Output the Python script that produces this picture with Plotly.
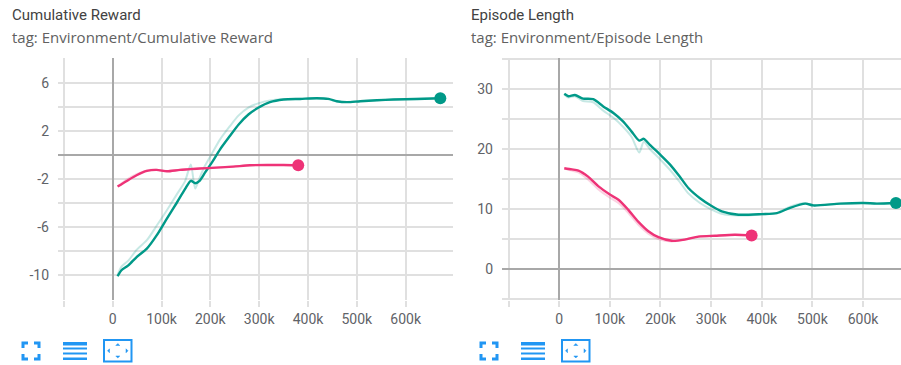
import plotly.graph_objects as go

W, H = 901, 365

# ---- Cumulative Reward (steps in thousands) ----
rew_teal_steps = [10, 18, 32, 49, 70, 90, 111, 131, 148, 160, 169, 178, 189, 203, 220, 240, 258, 278,
                  298, 322, 350, 384, 418, 442, 459, 480, 507, 541, 575, 623, 671]
rew_teal_smooth = [-10.1, -9.6, -9.2, -8.5, -7.8, -6.7, -5.3, -4.0, -2.85, -2.15, -2.35, -2.15, -1.47,
                   -0.64, 0.47, 1.58, 2.54, 3.37, 3.93, 4.4, 4.62, 4.67, 4.73, 4.67, 4.48, 4.4, 4.48,
                   4.56, 4.62, 4.67, 4.73]
rew_teal_raw = [-10.0, -9.3, -8.8, -7.9, -7.1, -5.9, -4.6, -3.3, -2.2, -0.8, -2.8, -1.9, -0.9, 0.1,
                1.3, 2.4, 3.3, 3.95, 4.3, 4.55, 4.65, 4.68, 4.72, 4.65, 4.45, 4.42, 4.5, 4.57, 4.63,
                4.68, 4.72]

rew_pink_steps = [10, 29, 49, 70, 90, 111, 138, 179, 213, 247, 281, 316, 350, 380]
rew_pink_smooth = [-2.63, -2.16, -1.69, -1.33, -1.24, -1.36, -1.24, -1.13, -1.05, -0.97, -0.86,
                   -0.83, -0.83, -0.86]
rew_pink_raw = [-2.6, -2.05, -1.6, -1.28, -1.22, -1.33, -1.22, -1.1, -1.03, -0.95, -0.85, -0.83,
                -0.84, -0.86]

# ---- Episode Length (steps in thousands) ----
len_teal_steps = [10, 18, 31, 47, 67, 87, 107, 126, 143, 158, 167, 179, 199, 219, 238, 255, 278, 301,
                  321, 354, 400, 430, 456, 486, 502, 555, 601, 627, 665]
len_teal_smooth = [29.2, 28.8, 29.0, 28.4, 28.3, 27.1, 26.0, 24.6, 22.9, 21.4, 21.7, 20.7, 19.1,
                   17.4, 15.4, 13.5, 11.8, 10.5, 9.6, 9.05, 9.15, 9.3, 10.2, 10.9, 10.6, 10.9, 11.0,
                   10.9, 11.0]
len_teal_raw = [29.1, 28.6, 28.8, 28.0, 27.8, 26.4, 25.2, 23.7, 22.0, 19.4, 21.2, 20.0, 18.3, 16.5,
                14.5, 12.6, 11.0, 9.9, 9.2, 8.9, 9.1, 9.35, 10.4, 11.0, 10.6, 10.9, 11.0, 10.9, 11.0]

len_pink_steps = [10, 25, 38, 57, 77, 100, 117, 136, 156, 176, 196, 222, 248, 275, 308, 347, 380]
len_pink_smooth = [16.8, 16.6, 16.4, 15.4, 13.8, 12.4, 11.55, 9.9, 7.9, 6.3, 5.3, 4.7, 4.9, 5.4,
                   5.55, 5.7, 5.6]
len_pink_raw = [16.7, 16.4, 16.1, 14.9, 13.3, 11.9, 11.0, 9.4, 7.4, 5.9, 5.0, 4.6, 4.9, 5.4, 5.5,
                5.7, 5.6]

x_tickvals = [-100, 0, 100, 200, 300, 400, 500, 600]
x_ticktext = ["", "0", "100k", "200k", "300k", "400k", "500k", "600k"]
rew_tickvals = [-12, -10, -8, -6, -4, -2, 0, 2, 4, 6, 8]
rew_ticktext = ["", "-10", "", "-6", "", "-2", "", "2", "", "6", ""]
len_tickvals = [-5, 0, 5, 10, 15, 20, 25, 30, 35]
len_ticktext = ["", "0", "", "10", "", "20", "", "30", ""]

TEAL = "#009988"
PINK = "#ee3377"
GRID = "#e0e0e0"
ZERO = "#a8a8a8"
TXT = "#5f6368"
FONT = "Roboto"


def px(x):
    return x / W


def py(y):
    return 1 - y / H


def k(steps):
    return [s * 1000 for s in steps]


fig = go.Figure()


def add_run(steps, raw, smooth, color, xa, ya):
    xs = k(steps)
    fig.add_trace(go.Scatter(x=xs, y=raw, mode="lines", xaxis=xa, yaxis=ya,
                             line=dict(color=color, width=2, shape="spline", smoothing=0.7),
                             opacity=0.22, hoverinfo="skip", showlegend=False))
    fig.add_trace(go.Scatter(x=xs, y=smooth, mode="lines", xaxis=xa, yaxis=ya,
                             line=dict(color=color, width=2.4, shape="spline", smoothing=0.7),
                             showlegend=False))
    fig.add_trace(go.Scatter(x=[xs[-1]], y=[smooth[-1]], mode="markers", xaxis=xa, yaxis=ya,
                             marker=dict(color=color, size=12), showlegend=False))


add_run(rew_teal_steps, rew_teal_raw, rew_teal_smooth, TEAL, "x", "y")
add_run(rew_pink_steps, rew_pink_raw, rew_pink_smooth, PINK, "x", "y")
add_run(len_teal_steps, len_teal_raw, len_teal_smooth, TEAL, "x2", "y2")
add_run(len_pink_steps, len_pink_raw, len_pink_smooth, PINK, "x2", "y2")

y_dom = [py(300), py(58)]


def xaxis(domain, rng, anchor):
    return dict(domain=domain, range=rng, anchor=anchor,
                tickvals=[v * 1000 for v in x_tickvals], ticktext=x_ticktext,
                showgrid=True, gridcolor=GRID, gridwidth=1.6,
                zeroline=True, zerolinecolor=ZERO, zerolinewidth=1.8,
                ticks="outside", ticklen=6, tickwidth=1.6, tickcolor=GRID,
                showline=False, tickfont=dict(family=FONT, size=14, color=TXT),
                fixedrange=True)


def yaxis(domain, rng, anchor, tv, tt):
    return dict(domain=domain, range=rng, anchor=anchor, tickvals=tv, ticktext=tt,
                showgrid=True, gridcolor=GRID, gridwidth=1.6,
                zeroline=True, zerolinecolor=ZERO, zerolinewidth=1.8,
                ticks="", ticklabelstandoff=8, showline=False,
                tickfont=dict(family=FONT, size=14, color=TXT), fixedrange=True)


fig.update_layout(
    width=W, height=H, margin=dict(l=0, r=0, t=0, b=0),
    paper_bgcolor="white", plot_bgcolor="white",
    xaxis=xaxis([px(58), px(453)], [-112000, 697000], "y"),
    yaxis=yaxis(y_dom, [-12.08, 8.08], "x", rew_tickvals, rew_ticktext),
    xaxis2=xaxis([px(502), 1.0], [-113000, 675000], "y2"),
    yaxis2=yaxis(y_dom, [-5.17, 35.17], "x2", len_tickvals, len_ticktext),
)

# panel headers
for x0, title, tag in [(10, "Cumulative Reward", "tag: Environment/Cumulative Reward"),
                       (469, "Episode Length", "tag: Environment/Episode Length")]:
    fig.add_annotation(x=px(x0), y=py(15), xref="paper", yref="paper", xanchor="left",
                       yanchor="middle", showarrow=False, text=title,
                       font=dict(family=FONT, size=15, color="#424242"))
    fig.add_annotation(x=px(x0), y=py(37), xref="paper", yref="paper", xanchor="left",
                       yanchor="middle", showarrow=False, text=tag,
                       font=dict(family="Open Sans", size=15, color="#616161"))

# toolbar icons under each chart
BLUE = "#2196f3"
shapes = []


def path(pts, closed=False):
    s = "M " + " L ".join(f"{px(a):.5f},{py(b):.5f}" for a, b in pts)
    return s + (" Z" if closed else "")


for off in (0, 458):
    # fullscreen brackets
    x0, x1, y0, y1, a = 23 + off, 39 + off, 343, 359, 5
    for pts in ([(x0, y0 + a), (x0, y0), (x0 + a, y0)],
                [(x1 - a, y0), (x1, y0), (x1, y0 + a)],
                [(x0, y1 - a), (x0, y1), (x0 + a, y1)],
                [(x1 - a, y1), (x1, y1), (x1, y1 - a)]):
        shapes.append(dict(type="path", xref="paper", yref="paper", path=path(pts),
                           line=dict(color=BLUE, width=3)))
    # list bars
    for ya, yb in [(342, 345.5), (347.5, 349.5), (352.5, 354.5), (357.5, 360)]:
        shapes.append(dict(type="rect", xref="paper", yref="paper",
                           x0=px(63 + off), x1=px(87 + off), y0=py(yb), y1=py(ya),
                           fillcolor=BLUE, line=dict(width=0)))
    # fit-to-domain box with four arrowheads
    shapes.append(dict(type="rect", xref="paper", yref="paper",
                       x0=px(104 + off), x1=px(131.5 + off), y0=py(361.5), y1=py(340),
                       line=dict(color=BLUE, width=2)))
    cx, cy = 117.8 + off, 350.8
    for pts in ([(cx - 2, 345.5), (cx + 2, 345.5), (cx, 343.5)],
                [(cx - 2, 356), (cx + 2, 356), (cx, 358)],
                [(109.5 + off, cy - 2), (109.5 + off, cy + 2), (107.5 + off, cy)],
                [(126 + off, cy - 2), (126 + off, cy + 2), (128 + off, cy)]):
        shapes.append(dict(type="path", xref="paper", yref="paper", path=path(pts, True),
                           fillcolor=BLUE, line=dict(color=BLUE, width=0.5)))

fig.update_layout(shapes=shapes)
fig.write_html("out.html")
